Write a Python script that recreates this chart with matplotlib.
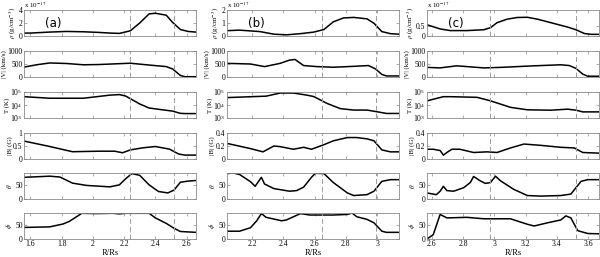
import numpy as np
import matplotlib
matplotlib.use("Agg")
import matplotlib.pyplot as plt

# === DATOS ===
# columna (a)
rho_a_r = [1.56, 1.60, 1.72, 1.83, 1.94, 2.04, 2.11, 2.17, 2.24, 2.30, 2.36, 2.40, 2.47, 2.51, 2.56, 2.61, 2.66]
rho_a = [0.45, 0.45, 0.6, 0.7, 0.65, 0.55, 0.45, 0.4, 0.8, 2.0, 3.4, 3.5, 3.2, 2.1, 1.0, 0.7, 0.6]
v_a_r = [1.56, 1.64, 1.725, 1.83, 1.94, 2.04, 2.24, 2.36, 2.47, 2.51, 2.56, 2.59, 2.66]
v_a = [380, 470, 540, 520, 470, 480, 530, 460, 400, 310, 60, 10, 10]
t_a_r = [1.56, 1.725, 1.94, 2.11, 2.17, 2.21, 2.30, 2.36, 2.42, 2.51, 2.56, 2.59, 2.66]
t_a = [4.64, 4.52, 4.52, 4.76, 4.8, 4.69, 4.08, 3.77, 3.67, 3.53, 3.36, 3.34, 3.34]
b_a_r = [1.56, 1.725, 1.87, 2.04, 2.14, 2.19, 2.24, 2.32, 2.40, 2.49, 2.55, 2.59, 2.66]
b_a = [0.69, 0.48, 0.28, 0.3, 0.3, 0.24, 0.35, 0.43, 0.48, 0.38, 0.19, 0.15, 0.15]
th_a_r = [1.56, 1.725, 1.79, 1.87, 1.96, 2.11, 2.17, 2.21, 2.25, 2.30, 2.36, 2.42, 2.48, 2.52, 2.56, 2.61, 2.66]
th_a = [75, 79, 76, 55, 47, 42, 49, 70, 88, 82, 49, 26, 21, 31, 58, 62, 64]
ph_a_r = [1.56, 1.725, 1.81, 1.85, 1.93, 2.02, 2.13, 2.17, 2.21, 2.36, 2.40, 2.47, 2.52, 2.56, 2.66]
ph_a = [40, 42, 52, 61, 89, 88, 89, 87, 89, 89, 73, 54, 37, 26, 23]

# columna (b)
rho_b_r = [2.04, 2.12, 2.25, 2.34, 2.42, 2.51, 2.595, 2.66, 2.72, 2.785, 2.85, 2.935, 2.98, 3.03, 3.085, 3.14]
rho_b = [0.41, 0.45, 0.34, 0.14, 0.09, 0.18, 0.3, 0.5, 1.09, 1.39, 1.43, 1.32, 0.98, 0.34, 0.18, 0.14]
v_b_r = [2.04, 2.19, 2.28, 2.38, 2.44, 2.475, 2.53, 2.615, 2.72, 2.85, 2.945, 2.99, 3.03, 3.06, 3.14]
v_b = [525, 500, 400, 525, 650, 675, 440, 400, 375, 410, 440, 310, 100, 40, 40]
t_b_r = [2.04, 2.29, 2.38, 2.465, 2.55, 2.595, 2.68, 2.765, 2.85, 2.935, 3.0, 3.06, 3.14]
t_b = [4.57, 4.68, 4.92, 4.92, 4.76, 4.65, 4.12, 3.72, 3.61, 3.61, 3.48, 3.35, 3.35]
b_b_r = [2.04, 2.19, 2.27, 2.34, 2.38, 2.465, 2.53, 2.58, 2.66, 2.72, 2.81, 2.87, 2.935, 2.98, 3.03, 3.085, 3.14]
b_b = [0.24, 0.16, 0.11, 0.2, 0.19, 0.15, 0.18, 0.15, 0.22, 0.28, 0.33, 0.33, 0.31, 0.28, 0.14, 0.11, 0.11]
th_b_r = [2.04, 2.08, 2.12, 2.19, 2.22, 2.26, 2.28, 2.34, 2.44, 2.485, 2.53, 2.58, 2.605, 2.66, 2.72, 2.81, 2.85, 2.935, 2.98, 3.03, 3.085, 3.14]
th_b = [88, 90, 85, 60, 44, 75, 52, 36, 27, 29, 41, 75, 89, 88, 57, 21, 12, 15, 27, 61, 67, 67]
ph_b_r = [2.04, 2.12, 2.19, 2.23, 2.26, 2.29, 2.39, 2.42, 2.51, 2.57, 2.72, 2.81, 2.84, 2.87, 2.935, 2.98, 3.03, 3.06, 3.14]
ph_b = [27, 27, 39, 63, 88, 75, 63, 66, 88, 83, 83, 85, 90, 77, 68, 56, 27, 23, 23]

# columna (c)
rho_c_r = [2.57, 2.654, 2.718, 2.825, 2.933, 2.976, 3.018, 3.083, 3.147, 3.212, 3.276, 3.362, 3.469, 3.523, 3.576, 3.62, 3.67]
rho_c = [0.54, 0.34, 0.26, 0.26, 0.3, 0.4, 0.64, 0.81, 0.89, 0.9, 0.81, 0.64, 0.43, 0.3, 0.12, 0.08, 0.08]
v_c_r = [2.57, 2.654, 2.76, 2.825, 2.933, 3.04, 3.255, 3.426, 3.48, 3.523, 3.566, 3.598, 3.67]
v_c = [370, 350, 430, 400, 350, 370, 430, 470, 440, 330, 110, 30, 30]
t_c_r = [2.57, 2.675, 2.718, 2.89, 2.976, 3.104, 3.212, 3.362, 3.469, 3.523, 3.566, 3.67]
t_c = [4.32, 4.64, 4.64, 4.59, 4.32, 3.82, 3.63, 3.6, 3.68, 3.6, 3.47, 3.47]
b_c_r = [2.57, 2.61, 2.654, 2.675, 2.697, 2.729, 2.78, 2.868, 2.954, 3.018, 3.104, 3.19, 3.297, 3.426, 3.512, 3.566, 3.67]
b_c = [0.15, 0.15, 0.13, 0.06, 0.1, 0.15, 0.15, 0.1, 0.11, 0.1, 0.17, 0.23, 0.21, 0.18, 0.17, 0.1, 0.09]
th_c_r = [2.57, 2.63, 2.654, 2.675, 2.697, 2.74, 2.804, 2.847, 2.868, 2.91, 2.943, 2.976, 3.008, 3.04, 3.126, 3.212, 3.297, 3.426, 3.49, 3.555, 3.598, 3.67]
th_c = [21, 15, 27, 44, 29, 27, 39, 57, 78, 63, 54, 57, 79, 63, 33, 12, 10, 12, 17, 61, 67, 67]
ph_c_r = [2.57, 2.61, 2.654, 2.697, 2.825, 2.933, 3.104, 3.212, 3.255, 3.34, 3.426, 3.458, 3.49, 3.534, 3.598, 3.67]
ph_c = [0, 15, 85, 73, 75, 70, 70, 51, 45, 56, 66, 80, 73, 29, 19, 18]

# limites, lineas discontinuas y ticks por columna
xlims = [(1.56, 2.66), (2.04, 3.14), (2.57, 3.67)]
dashed = [(2.24, 2.52), (2.65, 2.99), (2.97, 3.52)]
xticks = [[1.6, 1.8, 2.0, 2.2, 2.4, 2.6], [2.2, 2.4, 2.6, 2.8, 3.0], [2.6, 2.8, 3.0, 3.2, 3.4, 3.6]]
panel = ["(a)", "(b)", "(c)"]
rho_lim = [(0, 4), (0, 2), (0, 1.25)]
rho_ticks = [[0, 2, 4], [0, 1, 2], [0, 0.5]]
b_lim = [(0, 1), (0, 0.4), (0, 0.4)]
b_ticks = [[0, 0.5, 1], [0, 0.2, 0.4], [0, 0.2, 0.4]]

series = [
    [(rho_a_r, rho_a), (v_a_r, v_a), (t_a_r, t_a), (b_a_r, b_a), (th_a_r, th_a), (ph_a_r, ph_a)],
    [(rho_b_r, rho_b), (v_b_r, v_b), (t_b_r, t_b), (b_b_r, b_b), (th_b_r, th_b), (ph_b_r, ph_b)],
    [(rho_c_r, rho_c), (v_c_r, v_c), (t_c_r, t_c), (b_c_r, b_c), (th_c_r, th_c), (ph_c_r, ph_c)],
]
ylabels = [r"$\rho$ (g/cm$^{-3}$)", "|V| (km/s)", "T (K)", "|B| (G)", r"$\theta$", r"$\phi$"]

plt.rcParams["font.family"] = ["Liberation Serif", "DejaVu Serif"]
plt.rcParams["mathtext.fontset"] = "stix"
plt.rcParams["font.size"] = 5.5

W, H = 600, 257
fig = plt.figure(figsize=(W / 100, H / 100), dpi=100)
col_left = [24, 227, 427]
col_w = 172
row_top = [10, 51, 92, 133, 173, 213]
row_h = 26
gris = "#8a8a8a"

for c in range(3):
    for r in range(6):
        ax = fig.add_axes([col_left[c] / W, 1 - (row_top[r] + row_h) / H, col_w / W, row_h / H])
        xr, yv = series[c][r]
        if r == 2:
            ax.semilogy(xr, 10 ** np.array(yv), color="black", lw=1.1)
            ax.set_ylim(1e3, 1e5)
            ax.set_yticks([1e3, 1e4, 1e5])
            ax.minorticks_off()
        else:
            ax.plot(xr, yv, color="black", lw=1.1)
        if r == 0:
            ax.set_ylim(*rho_lim[c])
            ax.set_yticks(rho_ticks[c])
            ax.set_yticklabels([f"{t:g}" for t in rho_ticks[c]])
            ax.text(0.0, 1.0, r"x 10$^{-17}$", transform=ax.transAxes, fontsize=5,
                    va="bottom")
            ax.text(0.12, 0.5, panel[c], transform=ax.transAxes, fontsize=8.5,
                    family="DejaVu Sans", va="center")
        elif r == 1:
            ax.set_ylim(0, 1000)
            ax.set_yticks([0, 500, 1000])
        elif r == 3:
            ax.set_ylim(*b_lim[c])
            ax.set_yticks(b_ticks[c])
            ax.set_yticklabels([f"{t:g}" for t in b_ticks[c]])
        elif r >= 4:
            ax.set_ylim(0, 90)
            ax.set_yticks([0, 50])
        for d in dashed[c]:
            ax.axvline(d, color="#9a9a9a", lw=0.7, ls=(0, (5, 3)))
        ax.set_xlim(*xlims[c])
        ax.set_xticks(xticks[c])
        if r == 5:
            ax.set_xticklabels([f"{t:g}" for t in xticks[c]])
            ax.set_xlabel("R/Rs", fontsize=6, labelpad=0.5)
        else:
            ax.set_xticklabels([])
        ax.set_ylabel(ylabels[r], fontsize=5, labelpad=0.5)
        ax.tick_params(direction="in", length=2, width=0.5, pad=1, labelsize=5.5,
                       top=True, right=True, colors=gris, labelcolor="black")
        for s in ax.spines.values():
            s.set_color(gris)
            s.set_linewidth(0.6)

fig.savefig("out.png", dpi=100)
